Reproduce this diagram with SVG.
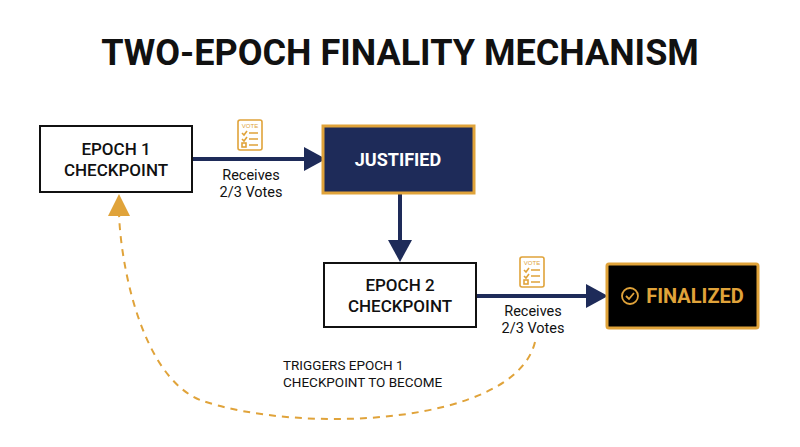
<svg xmlns="http://www.w3.org/2000/svg" width="800" height="447" viewBox="0 0 800 447">
<style>
text{font-family:Roboto,"Liberation Sans",sans-serif}
.box{fill:#fff;stroke:#111;stroke-width:2}
.bt{font-size:17px;font-weight:500;fill:#111;text-anchor:middle}
.lbl{font-size:14.5px;fill:#111;text-anchor:middle}
.nav{stroke:#1e2b59;stroke-width:4;fill:none}
.ic{fill:none;stroke:#e0a33a;stroke-width:1.6}
</style>
<defs>
<g id="vote">
<rect x="0" y="0" width="24" height="30" rx="2" class="ic"/>
<text x="12" y="8" font-size="6" fill="#e0a33a" text-anchor="middle" style="font-family:'Liberation Sans',sans-serif">VOTE</text>
<path d="M4,13 6,15 9,11 M11,13 H20 M4,19 6,21 9,17 M11,19 H20 M11,25 H20" class="ic" stroke-width="1.2"/>
<rect x="4" y="23" width="4" height="4" class="ic" stroke-width="1.2"/>
</g>
</defs>
<rect width="800" height="447" fill="#fff"/>
<text x="400" y="65" font-size="36" font-weight="bold" text-anchor="middle" fill="#111">TWO-EPOCH FINALITY MECHANISM</text>
<g id="connectors">
<line x1="192" y1="159" x2="304" y2="159" class="nav"/>
<path d="M304,147 326,159 304,171z" fill="#1e2b59"/>
<line x1="400" y1="193" x2="400" y2="242" class="nav"/>
<path d="M388,240 400,262 412,240z" fill="#1e2b59"/>
<line x1="476" y1="296" x2="588" y2="296" class="nav"/>
<path d="M586,284 608,296 586,308z" fill="#1e2b59"/>
<path d="M535,342 C515,425 300,435 200,400 C140,375 120,260 119,212" fill="none" stroke="#e0a33a" stroke-width="2" stroke-dasharray="7,6"/>
<path d="M108,216 119,194 130,216z" fill="#e0a33a"/>
<text x="251" y="180" class="lbl">Receives</text>
<text x="251" y="197" class="lbl">2/3 Votes</text>
<text x="533" y="316" class="lbl">Receives</text>
<text x="533" y="333" class="lbl">2/3 Votes</text>
<text x="283" y="370" font-size="13.5" fill="#111">TRIGGERS EPOCH 1</text>
<text x="283" y="387" font-size="13.5" fill="#111">CHECKPOINT TO BECOME</text>
<use href="#vote" x="238" y="120"/>
<use href="#vote" x="520" y="257"/>
</g>
<g id="epoch1"><rect x="40" y="126" width="152" height="66" class="box"/>
<text x="116" y="155" class="bt">EPOCH 1</text><text x="116" y="176" class="bt">CHECKPOINT</text></g>
<g id="justified"><rect x="323" y="126" width="151" height="67" fill="#1e2b59" stroke="#e0a33a" stroke-width="3"/>
<text x="398" y="166" font-size="18" font-weight="bold" fill="#fff" text-anchor="middle">JUSTIFIED</text></g>
<g id="epoch2"><rect x="324" y="263" width="152" height="64" class="box"/>
<text x="400" y="291" class="bt">EPOCH 2</text><text x="400" y="312" class="bt">CHECKPOINT</text></g>
<g id="finalized"><rect x="607" y="264" width="151" height="64" rx="2" fill="#000" stroke="#e0a33a" stroke-width="3"/>
<circle cx="630" cy="296" r="8" fill="none" stroke="#e0a33a" stroke-width="1.8"/>
<path d="M626,296 629,299 634,293" fill="none" stroke="#e0a33a" stroke-width="1.8"/>
<text x="695" y="303" font-size="20" font-weight="bold" fill="#e0a33a" text-anchor="middle">FINALIZED</text></g>
</svg>
